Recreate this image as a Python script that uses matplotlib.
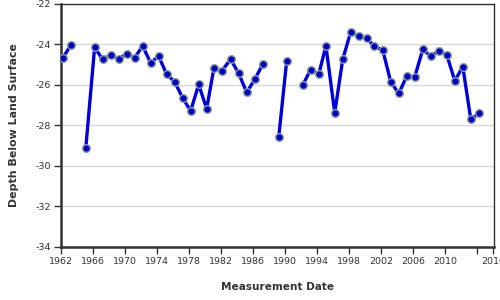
import numpy as np
import matplotlib
matplotlib.use("Agg")
import matplotlib.pyplot as plt

plt.rcParams['axes.unicode_minus'] = False
plt.rcParams['font.family'] = ['DejaVu Sans']

# Decimal measurement years (NaN-separated gaps where no measurement)
years = [1962.2, 1963.2, 1964.2, 1965.1, 1966.2, 1967.2, 1968.2, 1969.2, 1970.2,
         1971.2, 1972.2, 1973.2, 1974.2, 1975.2, 1976.2, 1977.2, 1978.2, 1979.2,
         1980.2, 1981.1, 1982.1, 1983.2, 1984.2, 1985.2, 1986.2, 1987.2, 1988.2,
         1989.2, 1990.2, 1991.2, 1992.2, 1993.2, 1994.2, 1995.1, 1996.2, 1997.2,
         1998.2, 1999.2, 2000.2, 2001.1, 2002.2, 2003.2, 2004.2, 2005.2, 2006.2,
         2007.2, 2008.2, 2009.2, 2010.2, 2011.2, 2012.2, 2013.2, 2014.2]
depth = [-24.69, -24.05, np.nan, -29.1, -24.15, -24.74, -24.53, -24.74, -24.45,
         -24.66, -24.08, -24.91, -24.58, -25.48, -25.85, -26.64, -27.29, -25.98,
         -27.18, -25.19, -25.30, -24.74, -25.43, -26.37, -25.73, -24.99, np.nan,
         -28.59, -24.81, np.nan, -26.01, -25.24, -25.48, -24.08, -27.38, -24.74,
         -23.38, -23.59, -23.70, -24.08, -24.28, -25.85, -26.42, -25.57, -25.60,
         -24.25, -24.58, -24.32, -24.51, -25.80, -25.10, -27.70, -27.41]

x_ticks = [1962, 1966, 1970, 1974, 1978, 1982, 1986, 1990, 1994, 1998, 2002,
           2006, 2010, 2014, 2016]
x_labels = ['1962', '1966', '1970', '1974', '1978', '1982', '1986', '1990',
            '1994', '1998', '2002', '2006', '2010', '', '2016']
y_ticks = [-34, -32, -30, -28, -26, -24, -22]
y_labels = ['-34', '-32', '-30', '-28', '-26', '-24', '-22']

fig = plt.figure(figsize=(5, 3), dpi=100)
ax = fig.add_axes([0.122, 0.177, 0.866, 0.81])

ax.plot(years, depth, color='#0000dd', lw=2.4, marker='o', ms=5.5,
        markerfacecolor='#0000cc', markeredgecolor='#8aa090', markeredgewidth=1.0,
        solid_joinstyle='round', zorder=3)

ax.set_xlim(1962, 2016.1)
ax.set_ylim(-34, -22)
ax.set_xticks(x_ticks)
ax.set_xticklabels(x_labels)
ax.set_yticks(y_ticks)
ax.set_yticklabels(y_labels)

ax.grid(axis='y', color='#d8d8d8', lw=1.0, zorder=0)
ax.set_axisbelow(True)

for s in ['left', 'bottom']:
    ax.spines[s].set_linewidth(1.8)
    ax.spines[s].set_color('#333333')
for s in ['top', 'right']:
    ax.spines[s].set_linewidth(1.0)
    ax.spines[s].set_color('#333333')

ax.tick_params(axis='both', direction='out', length=5, width=1, color='#333333',
               labelsize=6.8, labelcolor='#333333', pad=2)

ax.set_xlabel('Measurement Date', fontsize=7.6, fontweight='bold', color='#333333', labelpad=12)
ax.set_ylabel('Depth Below Land Surface', fontsize=7.9, fontweight='bold', color='#333333', labelpad=12)

fig.savefig('out.png', dpi=100)
